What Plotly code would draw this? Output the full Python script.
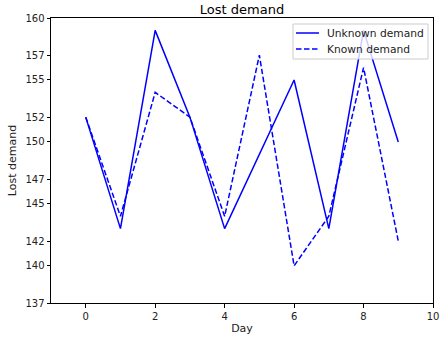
import plotly.graph_objects as go

days = [0, 1, 2, 3, 4, 5, 6, 7, 8, 9]
unknown_demand = [152, 143, 159, 152, 143, 149, 155, 143, 159, 150]
known_demand = [152, 144, 154, 152, 144, 157, 140, 144, 156, 142]
y_ticks = [137, 140, 142, 145, 147, 150, 152, 155, 157, 160]
x_ticks = [0, 2, 4, 6, 8, 10]
series_names = ["Unknown demand", "Known demand"]

W, H = 440, 342
L, R, T, B = 51, 7, 18, 39
PW, PH = W - L - R, H - T - B


def px_x(p):
    return (p - L) / PW


def px_y(p):
    return (H - B - p) / PH


font = "DejaVu Sans"
dashes = ["solid", "5.5px,2.5px"]

fig = go.Figure()
for name, vals, dash in zip(series_names, [unknown_demand, known_demand], dashes):
    fig.add_trace(go.Scatter(x=days, y=vals, mode="lines", name=name, showlegend=False,
                             line=dict(color="#0000ff", width=1.5, dash=dash)))

# legend (drawn manually to match compact matplotlib legend)
fig.add_shape(type="rect", xref="paper", yref="paper",
              x0=px_x(293), x1=px_x(428), y0=px_y(59), y1=px_y(24),
              line=dict(color="#cccccc", width=1), fillcolor="rgba(255,255,255,0.8)", layer="above")
for i, (name, dash) in enumerate(zip(series_names, dashes)):
    yy = px_y(33 + 16 * i)
    fig.add_shape(type="line", xref="paper", yref="paper", x0=px_x(296), x1=px_x(319), y0=yy, y1=yy,
                  line=dict(color="#0000ff", width=1.5, dash=dash), layer="above")
    fig.add_annotation(xref="paper", yref="paper", x=px_x(325), y=yy, text=name, showarrow=False,
                       xanchor="left", yanchor="middle",
                       font=dict(family=font, size=10.7, color="#222"))

axis_common = dict(showgrid=False, zeroline=False, showline=True, linecolor="black",
                   linewidth=1, mirror=True, ticks="outside", ticklen=3.5, tickcolor="black",
                   automargin=False,
                   tickfont=dict(family=font, size=10, color="#222"))
fig.update_layout(
    width=W, height=H,
    margin=dict(l=L, r=R, t=T, b=B),
    paper_bgcolor="white", plot_bgcolor="white",
    title=dict(text="Lost demand", x=0.5, xref="paper", xanchor="center", y=1 - 9 / H,
               yanchor="middle", font=dict(family=font, size=13, color="black")),
    xaxis=dict(range=[-1, 10], tickvals=x_ticks, title=dict(text="Day", standoff=3,
               font=dict(family=font, size=11, color="#222")), **axis_common),
    yaxis=dict(range=[137, 160], tickvals=y_ticks, title=dict(text="Lost demand", standoff=6,
               font=dict(family=font, size=11, color="#222")), **axis_common),
    showlegend=False,
)
fig.write_html("out.html", config={"displayModeBar": False},
               post_script="document.body.style.margin='0';")
